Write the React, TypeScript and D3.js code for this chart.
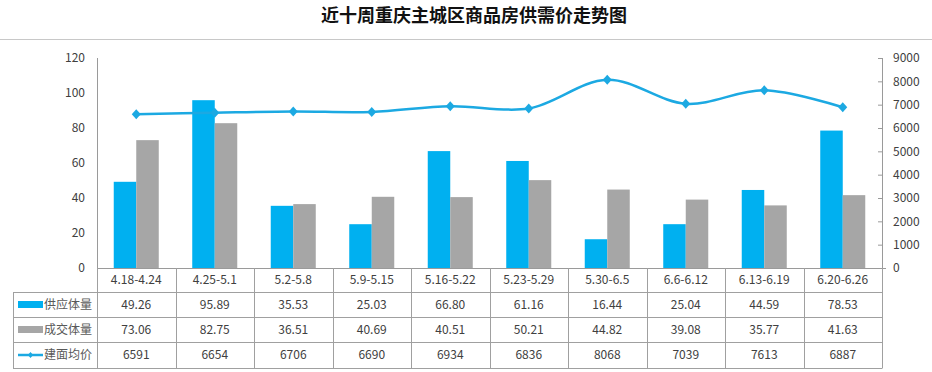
import React from "react";
import * as d3 from "d3";

const title = "近十周重庆主城区商品房供需价走势图";
const categories = ["4.18-4.24", "4.25-5.1", "5.2-5.8", "5.9-5.15", "5.16-5.22", "5.23-5.29", "5.30-6.5", "6.6-6.12", "6.13-6.19", "6.20-6.26"];
const supply = [49.26, 95.89, 35.53, 25.03, 66.80, 61.16, 16.44, 25.04, 44.59, 78.53];
const deals = [73.06, 82.75, 36.51, 40.69, 40.51, 50.21, 44.82, 39.08, 35.77, 41.63];
const price = [6591, 6654, 6706, 6690, 6934, 6836, 8068, 7039, 7613, 6887];
const supplyLabels = ["49.26", "95.89", "35.53", "25.03", "66.80", "61.16", "16.44", "25.04", "44.59", "78.53"];
const dealLabels = ["73.06", "82.75", "36.51", "40.69", "40.51", "50.21", "44.82", "39.08", "35.77", "41.63"];
const leftTicks = [0, 20, 40, 60, 80, 100, 120];
const rightTicks = [0, 1000, 2000, 3000, 4000, 5000, 6000, 7000, 8000, 9000];
const seriesNames = ["供应体量", "成交体量", "建面均价"];

const BLUE = "#00B0F0";
const GRAY = "#A6A6A6";
const LINE = "#1CA9E2";
const FONT = "'Noto Sans CJK SC', 'Noto Sans', sans-serif";

export default function App() {
  const W = 932, H = 372;
  const left = 97, right = 882, top = 58, bottom = 268;
  const x = d3.scaleBand<string>().domain(categories).range([left, right]).paddingInner(0).paddingOuter(0);
  const inner = d3.scaleBand<string>().domain(["s", "d"]).range([0, x.bandwidth()]).paddingInner(0).paddingOuter(0.744);
  const yL = d3.scaleLinear().domain([0, 120]).range([bottom, top]);
  const yR = d3.scaleLinear().domain([0, 9000]).range([bottom, top]);
  const cx = (c: string) => (x(c) as number) + x.bandwidth() / 2;

  const line = d3.line<number>()
    .x((_, i) => cx(categories[i]))
    .y((d) => yR(d))
    .curve(d3.curveCatmullRom.alpha(0.5));

  const rowEdges = [268, 292, 317, 342, 368];
  const rowCenter = (r: number) => (rowEdges[r] + rowEdges[r + 1]) / 2;
  const legendLeft = 13;
  const diamond = (px: number, py: number, r: number) => `M${px},${py - r}L${px + r * 0.9},${py}L${px},${py + r}L${px - r * 0.9},${py}Z`;
  const tableLine = "#A0A0A0";
  const textColor = "#404040";

  return (
    <svg width={W} height={H} style={{ position: "fixed", left: 0, top: 0, background: "#fff" }} fontFamily={FONT}>
      <rect x={0} y={0} width={W} height={H} fill="#fff" />
      <text x={474} y={21.5} textAnchor="middle" fontSize={18} fontWeight="bold" fill="#111">{title}</text>
      <line x1={0} x2={W} y1={39.5} y2={39.5} stroke="#C8C8C8" strokeWidth={1} />

      {/* bars */}
      {categories.map((c, i) => (
        <g key={c}>
          <rect x={(x(c) as number) + (inner("s") as number)} y={yL(supply[i])} width={inner.bandwidth()} height={bottom - yL(supply[i])} fill={BLUE} />
          <rect x={(x(c) as number) + (inner("d") as number)} y={yL(deals[i])} width={inner.bandwidth()} height={bottom - yL(deals[i])} fill={GRAY} />
        </g>
      ))}

      {/* price line */}
      <path d={line(price) || ""} fill="none" stroke={LINE} strokeWidth={2.5} />
      {price.map((p, i) => (
        <path key={i} d={diamond(cx(categories[i]), yR(p), 5)} fill={LINE} />
      ))}

      {/* left axis */}
      <line x1={left + 0.5} x2={left + 0.5} y1={top} y2={bottom} stroke="#9A9A9A" />
      {leftTicks.map((t) => (
        <text key={t} x={85} y={yL(t)} dy="0.35em" textAnchor="end" fontSize={12} fill={textColor}>{t}</text>
      ))}

      {/* right axis */}
      <line x1={right + 0.5} x2={right + 0.5} y1={top} y2={bottom} stroke="#9A9A9A" />
      {rightTicks.map((t) => (
        <g key={t}>
          <line x1={right - 4} x2={right} y1={yR(t) + 0.5} y2={yR(t) + 0.5} stroke="#9A9A9A" />
          <text x={893} y={yR(t)} dy="0.35em" textAnchor="start" fontSize={12} fill={textColor}>{t}</text>
        </g>
      ))}

      {/* table */}
      <line x1={left} x2={right + 4} y1={bottom + 0.5} y2={bottom + 0.5} stroke="#9A9A9A" />
      {rowEdges.slice(1).map((ry) => (
        <line key={ry} x1={legendLeft} x2={right + 0.5} y1={ry + 0.5} y2={ry + 0.5} stroke={tableLine} />
      ))}
      <line x1={legendLeft + 0.5} x2={legendLeft + 0.5} y1={rowEdges[1]} y2={rowEdges[4]} stroke={tableLine} />
      {categories.map((c) => (
        <line key={c} x1={Math.round(x(c) as number) + 0.5} x2={Math.round(x(c) as number) + 0.5} y1={rowEdges[0]} y2={rowEdges[4]} stroke={tableLine} />
      ))}
      <line x1={right + 0.5} x2={right + 0.5} y1={rowEdges[0]} y2={rowEdges[4]} stroke={tableLine} />

      {categories.map((c, i) => (
        <g key={c} fontSize={12} fill={textColor} textAnchor="middle">
          <text x={cx(c)} y={rowCenter(0)} dy="0.35em">{c}</text>
          <text x={cx(c)} y={rowCenter(1)} dy="0.35em">{supplyLabels[i]}</text>
          <text x={cx(c)} y={rowCenter(2)} dy="0.35em">{dealLabels[i]}</text>
          <text x={cx(c)} y={rowCenter(3)} dy="0.35em">{price[i]}</text>
        </g>
      ))}

      {/* legend keys */}
      <rect x={18} y={rowCenter(1) - 3.5} width={25} height={7} fill={BLUE} />
      <rect x={18} y={rowCenter(2) - 3.5} width={25} height={7} fill={GRAY} />
      <line x1={18} x2={43} y1={rowCenter(3)} y2={rowCenter(3)} stroke={LINE} strokeWidth={2.5} />
      <path d={diamond(30.5, rowCenter(3), 3)} fill={LINE} />
      {seriesNames.map((n, r) => (
        <text key={n} x={44} y={rowCenter(r + 1)} dy="0.35em" fontSize={12} fill="#595959">{n}</text>
      ))}
    </svg>
  );
}
